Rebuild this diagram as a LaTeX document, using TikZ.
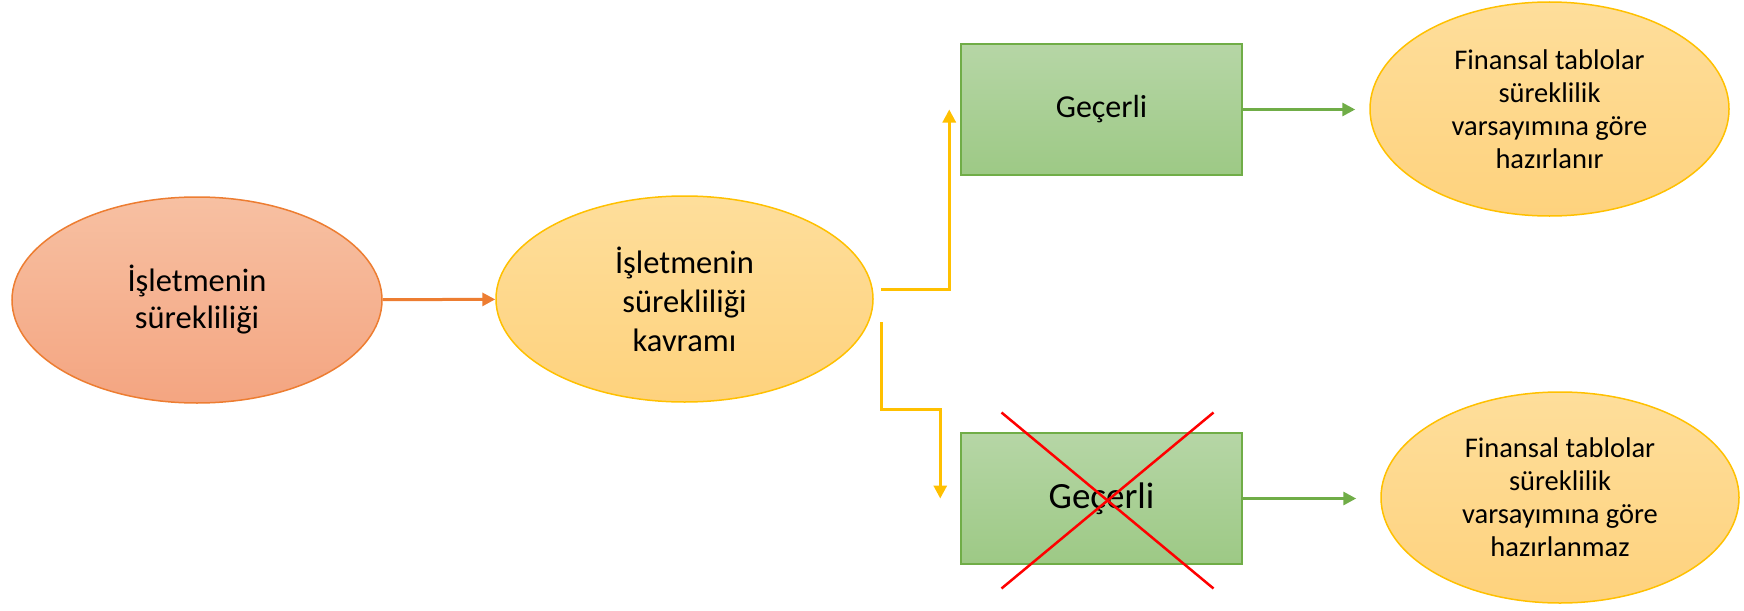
\documentclass[tikz,border=0pt]{standalone}
\usepackage{fontspec}
\setmainfont{Carlito}
\usepackage{tikz}
\usetikzlibrary{arrows.meta,positioning,shapes.geometric,calc}

\definecolor{orangeline}{HTML}{ED7D31}
\definecolor{yellowline}{HTML}{FFC000}
\definecolor{greenline}{HTML}{70AD47}

\begin{document}
\begin{tikzpicture}[
  x=1pt, y=-1pt,
  font=\fontsize{32.5}{37}\selectfont,
  oval/.style={draw, ellipse, inner sep=0pt, align=center, line width=1.5pt},
  startoval/.style={oval, draw=orangeline, top color={rgb,255:red,247;green,192;blue,162}, bottom color={rgb,255:red,244;green,165;blue,129}},
  yellowoval/.style={oval, draw=yellowline, top color={rgb,255:red,254;green,222;blue,155}, bottom color={rgb,255:red,254;green,210;blue,125}},
  resultbox/.style={draw=greenline, line width=1.5pt, rectangle, minimum width=281pt, minimum height=131pt, inner sep=0pt, top color={rgb,255:red,182;green,214;blue,166}, bottom color={rgb,255:red,157;green,201;blue,133}},
  oarr/.style={-{Triangle[length=13pt,width=13pt]}, line width=3pt, orangeline},
  yarr/.style={-{Triangle[length=13pt,width=13pt]}, line width=3pt, yellowline},
  garr/.style={-{Triangle[length=13pt,width=13pt]}, line width=3pt, greenline},
  cross/.style={red, line width=2.5pt}
]
  \useasboundingbox (0,0) rectangle (1744,610);

  \node[startoval, minimum width=370pt, minimum height=206pt] (going) at (197,300) {İşletmenin\\sürekliliği};
  \node[yellowoval, minimum width=377pt, minimum height=206pt, font=\fontsize{32.5}{39}\selectfont] (concept) at (684.5,299) {İşletmenin\\sürekliliği\\kavramı};
  \node[resultbox, font=\fontsize{32}{38}\selectfont] (valid) at (1101.5,109.5) {Geçerli};
  \node[resultbox, font=\fontsize{37}{44}\selectfont] (invalid) at (1101.5,498.5) {Geçerli};
  \node[yellowoval, minimum width=359pt, minimum height=214pt, font=\fontsize{28.5}{33}\selectfont] (prepared) at (1549.5,109) {Finansal tablolar\\süreklilik\\varsayımına göre\\hazırlanır};
  \node[yellowoval, minimum width=358pt, minimum height=211pt, font=\fontsize{28.5}{33}\selectfont] (notprepared) at (1560,497.5) {Finansal tablolar\\süreklilik\\varsayımına göre\\hazırlanmaz};

  \coordinate (turn) at ($(invalid.west)+(-20,-89.5)$);

  \draw[oarr] (going) -- (concept);
  \draw[yarr] ($(concept.east)+(7,-10)$) -| ($(valid.west)+(-11,0)$);
  \draw[yarr] ($(concept.east)+(8,23)$) |- (turn) -- (turn |- invalid.west);
  \draw[garr, shorten >=14pt] (valid.east) -- (valid.east -| prepared.west);
  \draw[garr, shorten >=24pt] (invalid.east) -- (invalid.east -| notprepared.west);

  % ustu cizili kutu
  \draw[cross] ($(invalid.center)+(-100,-86)$) -- ($(invalid.center)+(112,90)$);
  \draw[cross] ($(invalid.center)+(112,-86)$) -- ($(invalid.center)+(-100,90)$);
\end{tikzpicture}
\end{document}
